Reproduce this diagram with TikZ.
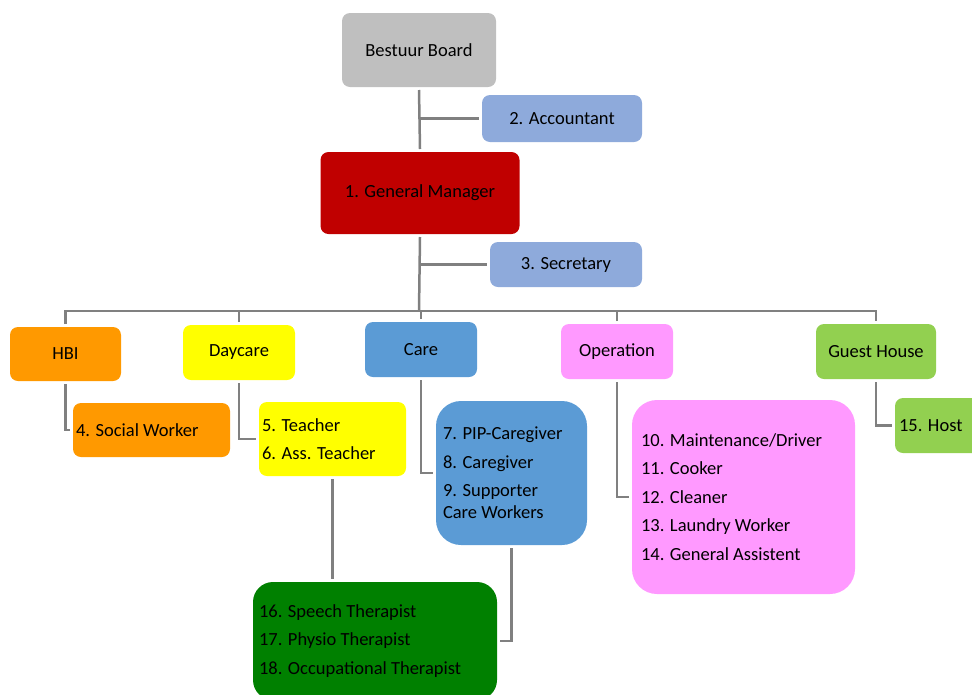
\documentclass[tikz,border=0pt]{standalone}
\usepackage{fontspec}
\setmainfont{Carlito}
\usetikzlibrary{positioning}
\definecolor{boardgray}{HTML}{BFBFBF}
\definecolor{staffblue}{HTML}{8EAADB}
\definecolor{gmred}{HTML}{C00000}
\definecolor{hbiorange}{HTML}{FF9900}
\definecolor{dayyellow}{HTML}{FFFF00}
\definecolor{careblue}{HTML}{5B9BD5}
\definecolor{oppink}{HTML}{FF99FF}
\definecolor{guestgreen}{HTML}{92D050}
\definecolor{therapygreen}{HTML}{008000}
\definecolor{linegray}{HTML}{808080}

\begin{document}
\begin{tikzpicture}[x=1pt, y=-1pt,
	every node/.style={font=\fontsize{18.5}{22}\selectfont, text=black, inner ysep=2pt, outer sep=3pt},
	unit/.style={rounded corners=8pt, minimum height=55pt},
	list/.style={unit, align=flush left},
	link/.style={draw=linegray, line width=2.5pt}]
	\useasboundingbox (0,0) rectangle (972,694);
	% top of the chart
	\node[unit, fill=boardgray, minimum width=154pt, minimum height=74pt] (board) at (419,50) {Bestuur Board};
	\node[unit, fill=staffblue, minimum width=160pt, minimum height=47pt] (acc) at (562,118.5) {2. Accountant};
	\node[unit, fill=gmred, minimum width=199pt, minimum height=82pt] (gm) at (420,193) {1. General Manager};
	\node[unit, fill=staffblue, minimum width=152pt, minimum height=45pt] (sec) at (566,264.5) {3. Secretary};
	% departments
	\node[unit, fill=hbiorange, minimum width=111pt, minimum height=54pt] (hbi) at (65.5,354) {HBI};
	\node[unit, fill=dayyellow, minimum width=112pt] (daycare) at (239,352.5) {Daycare};
	\node[unit, fill=careblue, minimum width=112pt] (care) at (421,349.5) {Care};
	\node[unit, fill=oppink, minimum width=112pt] (operation) at (617,351.5) {Operation};
	\node[unit, fill=guestgreen, minimum width=120pt] (guest) at (876,351.5) {Guest House};
	% staff of each department
	\node[list, fill=hbiorange, inner xsep=3pt, text width=151pt, minimum height=54pt] (social) at (151.5,430) {4. Social Worker};
	\node[list, fill=dayyellow, inner xsep=3pt, text width=141pt, minimum height=74pt] (teacher) at (332.5,439) {5. Teacher\\[6.5pt]6. Ass. Teacher};
	\node[list, fill=careblue, rounded corners=25pt, inner xsep=7pt, text width=137pt, minimum height=144pt] (carelist) at (511.5,473) {7. PIP-Caregiver\\[6.5pt]8. Caregiver\\[6.5pt]9. Supporter\\Care Workers};
	\node[list, fill=oppink, rounded corners=25pt, inner xsep=9pt, text width=205pt, minimum height=194pt] (oplist) at (743.5,497) {10. Maintenance/Driver\\[6.5pt]11. Cooker\\[6.5pt]12. Cleaner\\[6.5pt]13. Laundry Worker\\[6.5pt]14. General Assistent};
	\node[list, fill=guestgreen, inner xsep=4pt, text width=82pt] (host) at (940,425.5) {15. Host};
	\node[list, fill=therapygreen, rounded corners=20pt, inner xsep=6pt, text width=232pt, minimum height=118pt] (therapy) at (375,641) {16. Speech Therapist\\[6.5pt]17. Physio Therapist\\[6.5pt]18. Occupational Therapist};
	% connectors
	\coordinate (bus) at (419,311);
	\draw[link] (board.south) -- (gm.north);
	\draw[link] (acc.west -| board.south) -- (acc.west);
	\draw[link] (gm.south) -- (bus);
	\draw[link] (sec.west -| gm.south) -- (sec.west);
	\draw[link] (hbi.north) |- (bus) -| (guest.north);
	\foreach \d in {daycare, care, operation} {\draw[link] (\d.north) -- (\d.north |- bus);}
	\draw[link] (hbi.south) |- (social.west);
	\draw[link] (daycare.south) |- (teacher.west);
	\draw[link] (care.south) |- (carelist.west);
	\draw[link] (operation.south) |- (oplist.west);
	\draw[link] (guest.south) |- (host.west);
	\draw[link] (teacher.south) -- (teacher.south |- therapy.north);
	\draw[link] (carelist.south) |- (therapy.east);
\end{tikzpicture}
\end{document}
